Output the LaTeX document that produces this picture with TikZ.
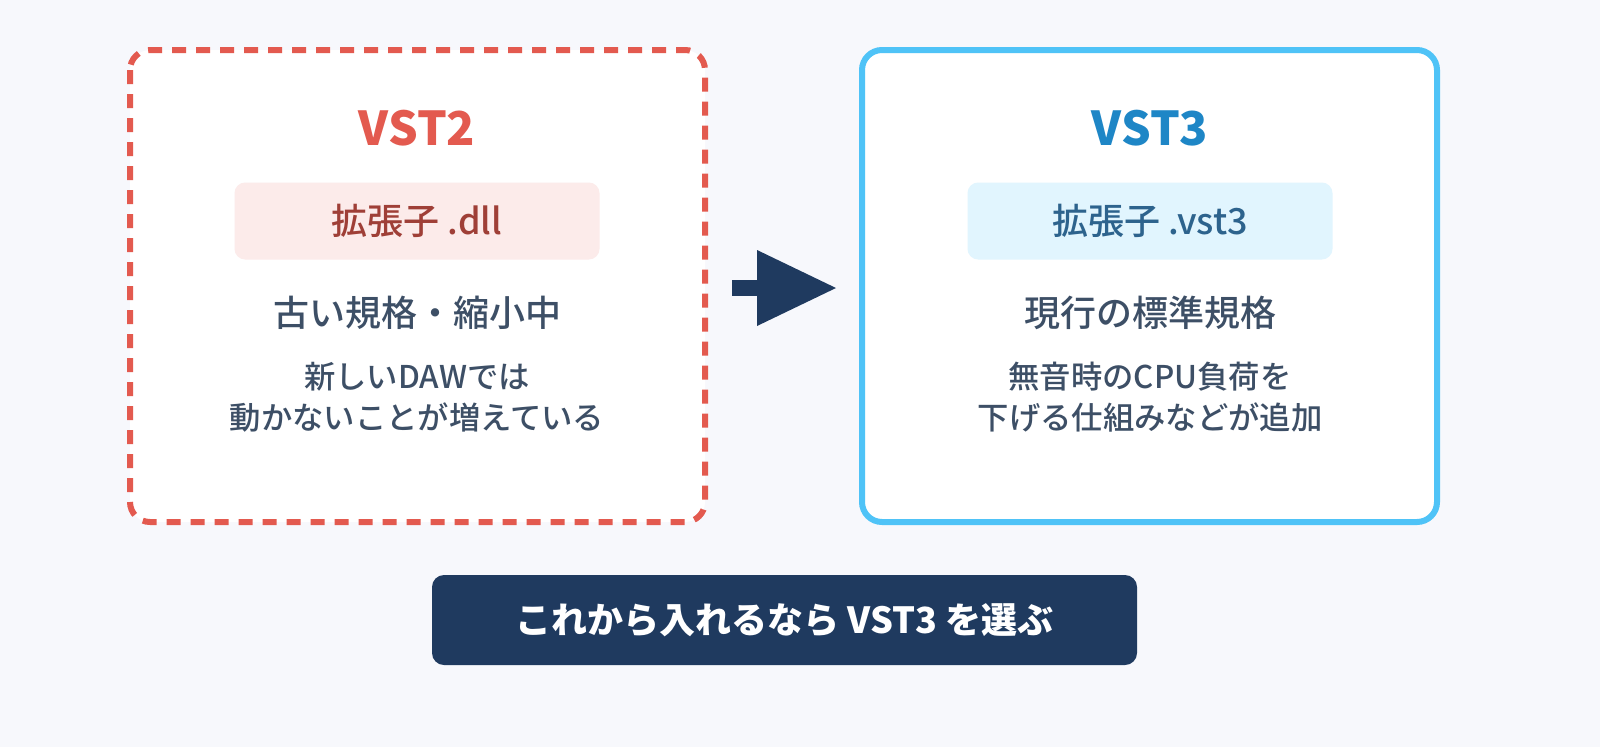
\documentclass[tikz,border=0pt]{standalone}
\usepackage{fontspec}
\setmainfont{Noto Sans CJK JP}
\newfontfamily\med{Noto Sans CJK JP Medium}
\definecolor{bg}{HTML}{F7F8FC}
\definecolor{redc}{HTML}{E35A4F}
\definecolor{bluec}{HTML}{4FC3F7}
\definecolor{bluet}{HTML}{1E86C6}
\definecolor{navy}{HTML}{1F3A5F}
\definecolor{txt}{HTML}{3D4F66}
\begin{document}
\begin{tikzpicture}[x=0.75pt,y=-0.75pt,
 card/.style={fill=white,rounded corners=15pt,line width=4.5pt},
 tag/.style={rounded corners=8pt,minimum width=273.75pt,minimum height=57.75pt,inner sep=0pt},
 body/.style={text=txt,align=center,font=\med\fontsize{23.5}{31}\selectfont}]
\useasboundingbox (0,0) rectangle (1600,747);
\fill[bg] (0,0) rectangle (1600,747);
\draw[card,draw=redc,dash pattern=on 10.5pt off 7.5pt] (130,50) rectangle (705,522);
\draw[card,draw=bluec] (862,50) rectangle (1437,522);
\node[text=redc,font=\fontsize{35}{40}\selectfont\bfseries] (t2) at (417,128) {VST2};
\node[text=bluet,font=\fontsize{35}{40}\selectfont\bfseries] (t3) at (1150,128) {VST3};
\node[tag,fill=redc!12,text=redc!70!black,font=\med\fontsize{27}{30}\selectfont] (g2) at (417,221) {拡張子 .dll};
\node[tag,fill=bluec!17,text=bluec!30!navy,font=\med\fontsize{27}{30}\selectfont] (g3) at (1150,221) {拡張子 .vst3};
\node[text=txt,font=\med\fontsize{27}{30}\selectfont] (h2) at (417,313) {古い規格・縮小中};
\node[text=txt,font=\med\fontsize{27}{30}\selectfont] (h3) at (1150,313) {現行の標準規格};
\node[body] (b2) at (417,397) {新しいDAWでは\\動かないことが増えている};
\node[body] (b3) at (1150,397) {無音時のCPU負荷を\\下げる仕組みなどが追加};
\fill[navy] (732,280) rectangle (760,296);
\fill[navy] (757,250) -- (836,288) -- (757,326) -- cycle;
\node[fill=navy,rounded corners=9pt,minimum width=528.75pt,minimum height=67.5pt,text=white,font=\fontsize{27}{30}\selectfont\bfseries] (bot) at (784.5,620) {これから入れるなら VST3 を選ぶ};
\end{tikzpicture}
\end{document}
